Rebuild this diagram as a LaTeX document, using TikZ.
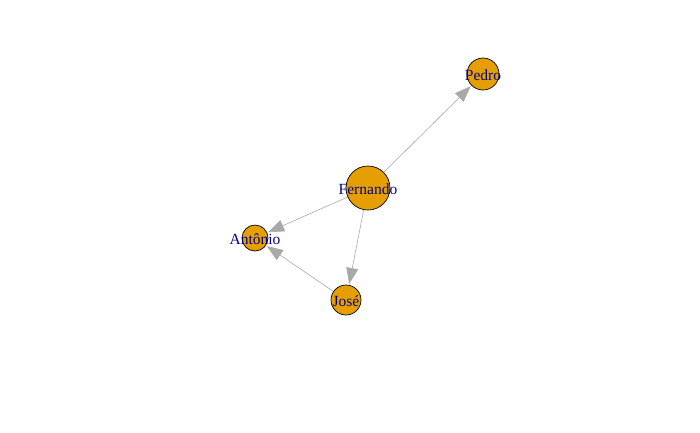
\documentclass[tikz,border=0pt]{standalone}
\usepackage{fontspec}
\setmainfont{Liberation Serif}
\usetikzlibrary{arrows.meta}
\definecolor{vfill}{HTML}{E69F00}
\definecolor{ecol}{HTML}{A9A9A9}
\definecolor{lcol}{HTML}{00008B}
\begin{document}
\begin{tikzpicture}[x=1pt,y=-1pt,
  vtx/.style={circle,draw=black,line width=0.7pt,fill=vfill,inner sep=0pt,minimum size=#1},
  lab/.style={text=lcol,font=\fontsize{15.5}{15.5}\selectfont,inner sep=0pt},
  edge/.style={draw=ecol,line width=0.6pt,-{Triangle[length=16pt,width=12pt]},shorten >=1pt}]
\useasboundingbox[fill=white] (0,0) rectangle (700,432);
\node[vtx=44pt] (F) at (368,188) {};
\node[vtx=26pt] (A) at (255,238) {};
\node[vtx=30pt] (J) at (346,300) {};
\node[vtx=32pt] (P) at (483,74) {};
\draw[edge] (F) -- (P);
\draw[edge] (F) -- (A);
\draw[edge] (F) -- (J);
\draw[edge] (J) -- (A);
\node[lab] at ([yshift=-1.5pt]F.center) {Fernando};
\node[lab] at ([yshift=-1.5pt]A.center) {Antônio};
\node[lab] at ([yshift=-1.5pt]J.center) {José};
\node[lab] at ([yshift=-1.5pt]P.center) {Pedro};
\end{tikzpicture}
\end{document}
